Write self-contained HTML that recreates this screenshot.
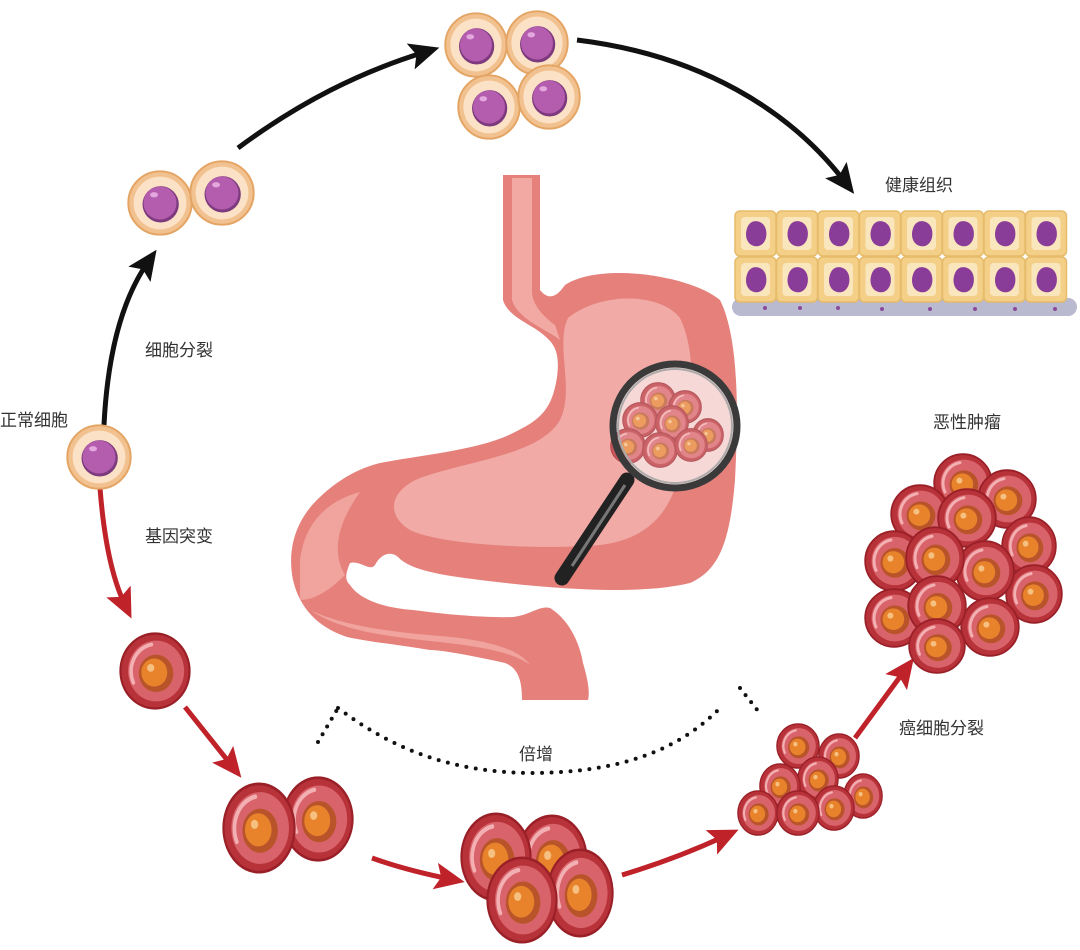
<!DOCTYPE html>
<html><head><meta charset="utf-8"><style>
html,body{margin:0;padding:0;background:#fff;width:1080px;height:950px;overflow:hidden}
svg{display:block}
text{font-family:"Liberation Sans","Noto Sans CJK SC",sans-serif;font-size:17px;fill:#333}
</style></head><body>
<svg width="1080" height="950" viewBox="0 0 1080 950" xmlns="http://www.w3.org/2000/svg">
<defs>
<symbol id="n" viewBox="-1 -1 2 2" preserveAspectRatio="none">
<circle r="0.96" fill="#f2c190" stroke="#e4a463" stroke-width="0.06"/>
<circle r="0.8" fill="#fbe2c6"/>
<circle cx="0.02" cy="0.04" r="0.55" fill="#7e3a7e"/>
<circle r="0.5" fill="#b45cae"/>
<ellipse cx="-0.18" cy="-0.25" rx="0.12" ry="0.08" fill="#e3a6dd"/>
</symbol>
<symbol id="c" viewBox="-1 -1 2 2" preserveAspectRatio="none">
<circle r="0.96" fill="#b8323a" stroke="#9a2028" stroke-width="0.06"/>
<circle cx="0.03" r="0.78" fill="#d9636a"/>
<path d="M-0.6,0.3 A0.7,0.7 0 0 1 -0.1,-0.68" fill="none" stroke="#f3b0b3" stroke-width="0.1" stroke-linecap="round"/>
<circle cx="0.03" cy="0.06" r="0.48" fill="#b9542a"/>
<circle cx="-0.02" cy="0.04" r="0.36" fill="#e8832c"/>
<circle cx="-0.12" cy="-0.08" r="0.1" fill="#f5c080"/>
</symbol>
<marker id="ab" markerWidth="6" markerHeight="6" refX="3" refY="3" orient="auto" markerUnits="strokeWidth">
<path d="M0,0.3 L6,3 L0,5.7 L1.2,3 Z" fill="#111"/></marker>
<marker id="ar" markerWidth="6" markerHeight="6" refX="3" refY="3" orient="auto" markerUnits="strokeWidth">
<path d="M0,0.3 L6,3 L0,5.7 L1.2,3 Z" fill="#c0222a"/></marker>
</defs>

<!-- black arrows -->
<path d="M104,425 C108,345 125,295 148,262" fill="none" stroke="#111" stroke-width="5" marker-end="url(#ab)"/>
<path d="M238,148 C300,102 360,72 425,52" fill="none" stroke="#111" stroke-width="5" marker-end="url(#ab)"/>
<path d="M577,40 C700,55 790,110 845,182" fill="none" stroke="#111" stroke-width="5" marker-end="url(#ab)"/>

<!-- red arrows -->
<path d="M100,488 C104,540 112,578 125,605" fill="none" stroke="#c0222a" stroke-width="5" marker-end="url(#ar)"/>
<path d="M185,707 L232,766" fill="none" stroke="#c0222a" stroke-width="5" marker-end="url(#ar)"/>
<path d="M372,858 C400,868 425,874 450,879" fill="none" stroke="#c0222a" stroke-width="5" marker-end="url(#ar)"/>
<path d="M622,875 C665,862 695,850 725,836" fill="none" stroke="#c0222a" stroke-width="5" marker-end="url(#ar)"/>
<path d="M855,738 L905,670" fill="none" stroke="#c0222a" stroke-width="5" marker-end="url(#ar)"/>

<!-- normal cells -->
<use href="#n" x="66" y="424" width="66" height="66"/>
<use href="#n" x="127" y="170" width="66" height="66"/>
<use href="#n" x="189" y="160" width="66" height="66"/>
<use href="#n" x="444" y="12" width="64" height="66"/>
<use href="#n" x="505" y="10" width="64" height="66"/>
<use href="#n" x="457" y="74" width="64" height="66"/>
<use href="#n" x="517" y="64" width="64" height="66"/>

<!-- tissue -->
<rect x="732" y="298" width="345" height="18" rx="9" fill="#b9b9cf"/>
<g id="tis">
<g id="row">
<g id="cell"><rect x="735" y="211" width="41" height="45" rx="5" fill="#f3cf88" stroke="#e6bb6a" stroke-width="1.5"/><rect x="741" y="217" width="29" height="33" rx="4" fill="#fae6bd"/><path d="M748,226 C752,218 764,220 766,230 C768,240 762,248 754,246 C746,244 744,234 748,226 Z" fill="#8a3d98"/></g>
<use href="#cell" x="41.5"/><use href="#cell" x="83"/><use href="#cell" x="124.5"/><use href="#cell" x="166"/><use href="#cell" x="207.5"/><use href="#cell" x="249"/><use href="#cell" x="290.5"/>
</g>
<use href="#row" y="46"/>
</g>
<g fill="#8a4a9a"><circle cx="765" cy="308" r="2"/><circle cx="800" cy="308" r="2"/><circle cx="838" cy="308" r="2"/><circle cx="882" cy="309" r="2"/><circle cx="930" cy="309" r="2"/><circle cx="975" cy="309" r="2"/><circle cx="1015" cy="309" r="2"/><circle cx="1055" cy="309" r="2"/></g>

<!-- stomach -->
<path d="M503,175 L540,175 L540,290 C548,300 556,298 565,285 C600,262 690,275 720,300 C740,340 738,420 735,480 C730,540 720,570 690,583 C640,595 560,590 480,580 C440,575 410,570 398,557 C390,550 380,555 375,565 C370,572 360,560 350,563 C345,575 345,580 350,585 C360,600 385,608 413,610 C450,615 490,618 513,617 C530,615 540,605 550,608 C570,620 580,645 583,663 C588,680 590,692 588,700 L522,700 C522,680 518,668 505,663 C470,655 440,650 430,650 C400,645 370,642 347,637 C320,628 300,610 293,580 C287,550 295,520 320,497 C340,478 360,468 380,463 C420,455 480,450 513,433 C540,420 552,410 557,377 C560,355 555,345 547,338 C535,325 508,318 503,300 Z" fill="#e5807b"/>
<path d="M512,178 L532,178 L532,292 C532,305 545,318 555,325 L560,340 C548,330 518,320 512,300 Z" fill="#f2a9a4"/>
<path d="M568,318 C600,292 660,292 680,318 C700,360 690,420 680,470 C670,520 640,540 600,545 C540,550 440,545 410,530 C385,515 390,490 420,478 C470,460 540,455 560,420 C575,390 555,345 568,318 Z" fill="#f1aaa6"/>
<path d="M300,560 C305,520 330,500 360,492 C340,520 330,550 345,575 C330,590 315,600 300,600 Z" fill="#f1a39e"/>
<path d="M310,610 C340,630 380,635 420,640 C470,645 510,650 530,665 C520,650 490,640 440,636 C390,632 340,625 310,610 Z" fill="#f1a39e"/>

<!-- magnifier -->
<line x1="627" y1="480" x2="562" y2="578" stroke="#222" stroke-width="15" stroke-linecap="round"/>
<line x1="625" y1="485" x2="572" y2="566" stroke="#777" stroke-width="3"/>
<circle cx="675" cy="426" r="62" fill="#f6d8d6"/>
<g opacity="0.7">
<use href="#c" x="640" y="382" width="36" height="36"/>
<use href="#c" x="668" y="390" width="34" height="34"/>
<use href="#c" x="622" y="402" width="36" height="36"/>
<use href="#c" x="655" y="405" width="34" height="36"/>
<use href="#c" x="692" y="418" width="32" height="34"/>
<use href="#c" x="610" y="428" width="36" height="36"/>
<use href="#c" x="642" y="432" width="36" height="36"/>
<use href="#c" x="674" y="428" width="34" height="34"/>
</g>
<circle cx="675" cy="426" r="62" fill="none" stroke="#3a3a3a" stroke-width="7"/>
<circle cx="675" cy="426" r="57" fill="none" stroke="#aaa" stroke-width="2"/>

<!-- cancer progression -->
<use href="#c" x="119" y="632" width="72" height="78"/>
<use href="#c" x="282" y="776" width="72" height="86"/>
<use href="#c" x="222" y="782" width="74" height="92"/>
<use href="#c" x="516" y="814" width="72" height="90"/>
<use href="#c" x="546" y="848" width="68" height="90"/>
<use href="#c" x="460" y="812" width="72" height="90"/>
<use href="#c" x="486" y="856" width="72" height="88"/>

<use href="#c" x="776" y="723" width="44" height="46"/>
<use href="#c" x="818" y="733" width="42" height="46"/>
<use href="#c" x="843" y="773" width="40" height="46"/>
<use href="#c" x="797" y="756" width="42" height="46"/>
<use href="#c" x="759" y="763" width="42" height="46"/>
<use href="#c" x="737" y="790" width="42" height="46"/>
<use href="#c" x="813" y="785" width="42" height="46"/>
<use href="#c" x="776" y="790" width="44" height="46"/>

<!-- tumor -->
<g>
<use href="#c" x="933" y="453" width="60" height="60"/>
<use href="#c" x="977" y="469" width="60" height="60"/>
<use href="#c" x="890" y="484" width="60" height="60"/>
<use href="#c" x="1001" y="516" width="56" height="60"/>
<use href="#c" x="937" y="488" width="60" height="60"/>
<use href="#c" x="864" y="530" width="60" height="62"/>
<use href="#c" x="1005" y="564" width="58" height="60"/>
<use href="#c" x="955" y="540" width="60" height="62"/>
<use href="#c" x="905" y="526" width="60" height="64"/>
<use href="#c" x="864" y="588" width="60" height="60"/>
<use href="#c" x="960" y="597" width="60" height="60"/>
<use href="#c" x="907" y="575" width="60" height="62"/>
<use href="#c" x="908" y="618" width="58" height="56"/>
</g>

<!-- dotted arc -->
<path d="M318,742 L338,708" fill="none" stroke="#111" stroke-width="4" stroke-linecap="round" stroke-dasharray="0 9"/>
<path d="M338,708 C400,755 460,772 530,773 C620,773 680,750 722,706" fill="none" stroke="#111" stroke-width="4" stroke-linecap="round" stroke-dasharray="0 9.5"/>
<path d="M740,688 L762,716" fill="none" stroke="#111" stroke-width="4" stroke-linecap="round" stroke-dasharray="0 9"/>

<!-- labels -->
<text x="145" y="356">细胞分裂</text>
<text x="0" y="426">正常细胞</text>
<text x="145" y="542">基因突变</text>
<text x="885" y="191">健康组织</text>
<text x="933" y="428">恶性肿瘤</text>
<text x="519" y="760">倍增</text>
<text x="899" y="734">癌细胞分裂</text>
</svg>
</body></html>
